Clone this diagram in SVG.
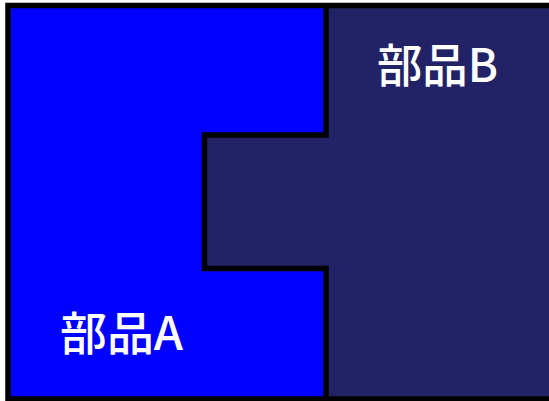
<svg xmlns="http://www.w3.org/2000/svg" width="549" height="401" viewBox="0 0 549 401">
<style>
.lbl{font-family:"Noto Sans CJK JP","Noto Sans",sans-serif;font-size:46px;font-weight:500;fill:#ffffff}
.edge{fill:none;stroke:#000000;stroke-width:5.5;stroke-linejoin:miter}
</style>
<rect x="0" y="0" width="549" height="401" fill="#ffffff"/>
<g id="partA">
<path d="M8,5.5 H326 V135 H204.5 V268.5 H326 V399 H8 Z" fill="#0000ff"/>
<text class="lbl" x="60" y="350" textLength="123" lengthAdjust="spacingAndGlyphs">部品A</text>
</g>
<g id="partB">
<path d="M326,5.5 H552 V399 H326 V268.5 H204.5 V135 H326 Z" fill="#222266"/>
<text class="lbl" x="377" y="82" textLength="121" lengthAdjust="spacingAndGlyphs">部品B</text>
</g>
<g id="connectors">
<path class="edge" d="M552,5.5 H8 V399 H552"/>
<path class="edge" d="M326,5.5 V135 H204.5 V268.5 H326 V401"/>
</g>
</svg>
